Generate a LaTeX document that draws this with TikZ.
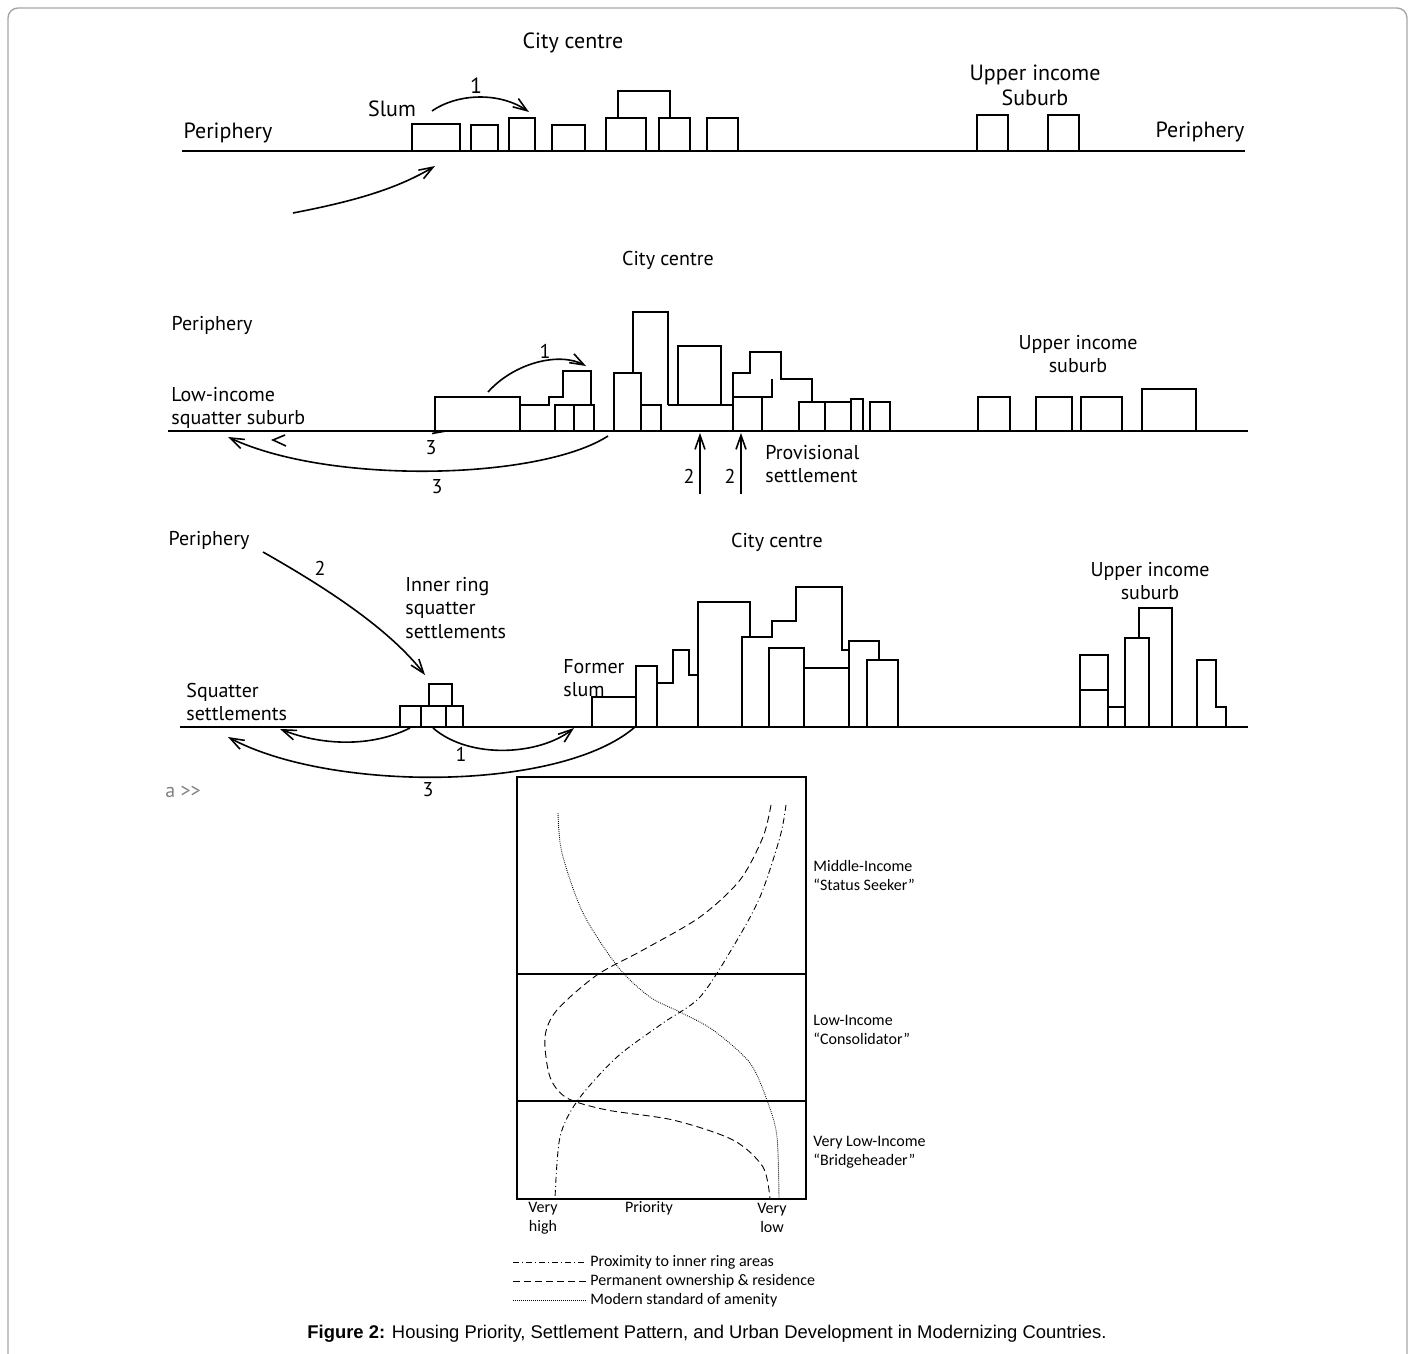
\documentclass[tikz,border=0pt]{standalone}
\usepackage{fontspec}
\setmainfont{PT Sans}
\newfontfamily\calibri{Carlito}
\newfontfamily\arial{Liberation Sans}
\usetikzlibrary{arrows.meta}

\begin{document}
\begin{tikzpicture}[x=0.5pt,y=-0.5pt,
    bldg/.style={line width=1pt},
    grnd/.style={line width=1pt},
    mig/.style={line width=0.8pt,-{Straight Barb[length=7pt,width=5pt]}},
    lbl/.style={font=\fontsize{11}{12.5}\selectfont,inner sep=0pt,align=left},
    slbl/.style={font=\fontsize{10}{11.6}\selectfont,inner sep=0pt,align=left},
    clbl/.style={font=\calibri\fontsize{8}{9.5}\selectfont,inner sep=0pt,align=left},
    dotc/.style={line width=0.45pt,dash pattern=on 0.4pt off 0.6pt},
    dashc/.style={line width=0.45pt,dash pattern=on 3.5pt off 2pt},
    dashdotc/.style={line width=0.45pt,dash pattern=on 3pt off 1.5pt on 0.5pt off 1.5pt}]
		\useasboundingbox (0,0) rectangle (1415,1354);
		\draw[gray!70,line width=0.7pt,rounded corners=5pt] (8,8) rectangle (1407,1380);
		% first stage
		\draw[grnd] (182,151) -- (1245,151);
		\draw[bldg] (412,151) rectangle (460,124);
		\draw[bldg] (471,151) rectangle (498,125);
		\draw[bldg] (509,151) rectangle (535,118);
		\draw[bldg] (552,151) rectangle (585,125);
		\draw[bldg] (606,151) rectangle (646,118);
		\draw[bldg] (659,151) rectangle (690,118);
		\draw[bldg] (618,118) -- (618,91) -- (670,91) -- (670,118);
		\draw[bldg] (707,151) rectangle (738,118);
		\draw[bldg] (977,151) rectangle (1008,115);
		\draw[bldg] (1048,151) rectangle (1079,115);
		\draw[mig] (432,111) .. controls (458,93) and (500,92) .. (529,112);
		\draw[mig] (293,213) .. controls (350,202) and (395,190) .. (435,166);
		\node[lbl] (cc1) at (573,43) {City centre};
		\node[lbl] (slum1) at (392,109) {Slum};
		\node[lbl] (one1) at (476,86) {1};
		\node[lbl] (perl1) at (228,133) {Periphery};
		\node[lbl] (perr1) at (1200,132) {Periphery};
		\node[lbl,align=center] (up1) at (1035,85) {Upper income\\Suburb};
		% second stage
		\draw[grnd] (168,431) -- (1248,431);
		\draw[bldg] (435,431) rectangle (520,397);
		\draw[bldg] (520,405) -- (549,405) -- (549,397) -- (563,397) -- (563,371) -- (591,371) -- (591,405);
		\draw[bldg] (555,431) rectangle (574,405);
		\draw[bldg] (574,431) rectangle (594,405);
		\draw[bldg] (614,431) rectangle (641,373);
		\draw[bldg] (633,373) -- (633,312) -- (668,312) -- (668,405);
		\draw[bldg] (641,431) rectangle (661,405);
		\draw[bldg] (668,405) -- (733,405);
		\draw[bldg] (678,405) rectangle (721,346);
		\draw[bldg] (733,431) rectangle (762,397);
		\draw[bldg] (733,397) -- (733,373) -- (750,373) -- (750,352) -- (781,352) -- (781,379) -- (812,379) -- (812,402);
		\draw[bldg] (762,397) -- (772,397) -- (772,379);
		\draw[bldg] (799,431) rectangle (825,402);
		\draw[bldg] (825,431) rectangle (851,402);
		\draw[bldg] (851,431) rectangle (863,399);
		\draw[bldg] (870,431) rectangle (890,402);
		\draw[bldg] (978,431) rectangle (1010,397);
		\draw[bldg] (1036,431) rectangle (1072,397);
		\draw[bldg] (1081,431) rectangle (1122,397);
		\draw[bldg] (1142,431) rectangle (1196,389);
		\draw[mig] (488,392) .. controls (515,362) and (560,352) .. (586,366);
		\draw[line width=0.8pt] (446,431) -- (432,433.5);
		\draw[line width=0.8pt] (285,435) -- (273,440) -- (286,446);
		\draw[mig] (608,436) .. controls (540,480) and (330,485) .. (228,437);
		\draw[mig] (700,494) -- (700,433);
		\draw[mig] (741,494) -- (741,433);
		\node[slbl] (cc2) at (668,260) {City centre};
		\node[slbl] (per2) at (212,325) {Periphery};
		\node[slbl,anchor=west] (low2) at (171,408) {Low-income\\squatter suburb};
		\node[slbl,align=center] (up2) at (1078,354) {Upper income\\suburb};
		\node[slbl,anchor=west] (prov2) at (765,464) {Provisional\\settlement};
		\node[slbl] (one2) at (545,351) {1};
		\node[slbl] (three2a) at (431,448) {3};
		\node[slbl] (three2b) at (437,487) {3};
		\node[slbl] (two2a) at (689,476) {2};
		\node[slbl] (two2b) at (730,476) {2};
		% third stage
		\draw[grnd] (180,727) -- (1248,727);
		\draw[bldg] (400,727) rectangle (421,706);
		\draw[bldg] (421,727) rectangle (446,706);
		\draw[bldg] (446,727) rectangle (463,706);
		\draw[bldg] (429,706) rectangle (452,684);
		\draw[bldg] (592,727) rectangle (636,697);
		\draw[bldg] (636,727) rectangle (657,666);
		\draw[bldg] (657,683) -- (673,683) -- (673,650) -- (689,650) -- (689,675) -- (698,675);
		\draw[bldg] (698,727) -- (698,602) -- (750,602) -- (750,637);
		\draw[bldg] (742,727) -- (742,637) -- (772,637) -- (772,621) -- (796,621) -- (796,587) -- (842,587) -- (842,650) -- (849,650);
		\draw[bldg] (849,727) -- (849,641) -- (879,641) -- (879,660);
		\draw[bldg] (769,727) rectangle (804,648);
		\draw[bldg] (804,727) rectangle (849,668);
		\draw[bldg] (867,727) rectangle (898,660);
		\draw[bldg] (1080,727) rectangle (1108,655);
		\draw[bldg] (1080,690) -- (1108,690);
		\draw[bldg] (1108,727) rectangle (1125,707);
		\draw[bldg] (1125,727) rectangle (1149,638);
		\draw[bldg] (1139,638) -- (1139,608) -- (1172,608) -- (1172,727);
		\draw[bldg] (1197,727) -- (1197,660) -- (1216,660) -- (1216,707) -- (1226,707) -- (1226,727);
		\draw[mig] (263,552) .. controls (330,590) and (390,630) .. (425,675);
		\draw[mig] (410,728) .. controls (370,748) and (320,745) .. (280,729);
		\draw[mig] (433,728) .. controls (470,760) and (540,755) .. (574,728);
		\draw[mig] (635,727) .. controls (560,792) and (330,792) .. (228,737);
		\node[slbl] (per3) at (209,540) {Periphery};
		\node[slbl] (two3) at (320,568) {2};
		\node[slbl,anchor=west] (inner3) at (405,608) {Inner ring\\squatter\\settlements};
		\node[slbl] (cc3) at (777,542) {City centre};
		\node[slbl,align=center] (up3) at (1150,581) {Upper income\\suburb};
		\node[slbl,anchor=west] (former3) at (563,678) {Former\\slum};
		\node[slbl,anchor=west] (sq3) at (186,702) {Squatter\\settlements};
		\node[slbl] (one3) at (461,754) {1};
		\node[slbl] (three3) at (428,790) {3};
		\node[slbl,text=gray] (amark) at (183,792) {a >\kern0pt>};
		% priority chart
		\draw[line width=0.6pt] (517,777) rectangle (806,1199);
		\draw[line width=0.6pt] (517,974) -- (806,974);
		\draw[line width=0.6pt] (517,1101) -- (806,1101);
		\draw[dotc] plot[smooth] coordinates {(558,813) (562,853) (583,913) (618,967) (650,997) (682,1013) (713,1030) (750,1063) (768,1103) (777,1137) (779,1199)};
		\draw[dashc] plot[smooth] coordinates {(771,805) (763,837) (740,880) (700,917) (643,950) (597,975) (557,1010) (545,1037) (550,1077) (567,1098) (607,1110) (673,1120) (733,1140) (763,1167) (770,1199)};
		\draw[dashdotc] plot[smooth] coordinates {(786,805) (780,837) (760,897) (733,947) (700,997) (663,1023) (617,1057) (578,1100) (560,1137) (555,1199)};
		\node[clbl,anchor=west] (mid) at (813,875) {Middle-Income\\“Status Seeker”};
		\node[clbl,anchor=west] (lowinc) at (813,1030) {Low-Income\\“Consolidator”};
		\node[clbl,anchor=west] (vlow) at (813,1152) {Very Low-Income\\“Bridgeheader”};
		\node[clbl,align=center] (vhigh) at (543,1218) {Very\\high};
		\node[clbl] (prio) at (649,1208) {Priority};
		\node[clbl,align=center] (vlowp) at (772,1218) {Very\\low};
		% legend
		\draw[dashdotc] (513,1262) -- (587,1262);
		\draw[dashc] (513,1281) -- (587,1281);
		\draw[dotc] (513,1300) -- (587,1300);
		\node[clbl,anchor=west] (leg1) at (590,1262) {Proximity to inner ring areas};
		\node[clbl,anchor=west] (leg2) at (590,1281) {Permanent ownership \& residence};
		\node[clbl,anchor=west] (leg3) at (590,1300) {Modern standard of amenity};
		\node[font=\arial\fontsize{9.2}{11}\selectfont,inner sep=0pt] (cap) at (707,1334)
                {\textbf{Figure 2:} Housing Priority, Settlement Pattern, and Urban Development in Modernizing Countries.};
	\end{tikzpicture}
\end{document}
